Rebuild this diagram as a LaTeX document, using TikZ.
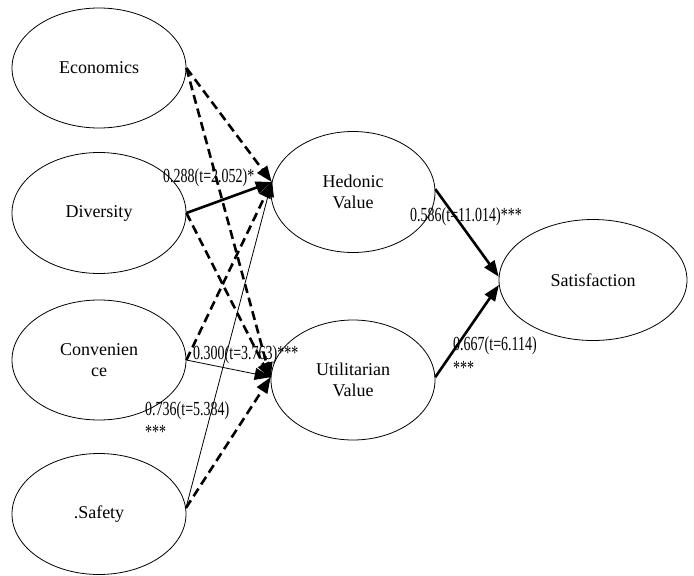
\documentclass[tikz,border=0pt]{standalone}
\usepackage{fontspec}
\setmainfont{Liberation Serif}
\newfontfamily\nodefont{Liberation Serif}
\newfontfamily\labfont[FakeStretch=0.7]{Liberation Serif}
\usetikzlibrary{shapes.geometric,arrows.meta}
\tikzset{
  constr/.style={ellipse,draw,line width=0.8pt,inner sep=0pt,align=center,
    font=\nodefont\fontsize{18}{21}\selectfont},
  path thick/.style={line width=2.6pt,-{Triangle[length=16pt,width=12pt]}},
  path dash/.style={line width=2.6pt,dash pattern=on 9pt off 5pt,-{Triangle[length=16pt,width=12pt]}},
  path thin/.style={line width=0.8pt,-{Triangle[length=16pt,width=12pt]}},
  coef/.style={inner sep=0pt,font=\labfont\fontsize{20}{22}\selectfont},
}
\begin{document}
\begin{tikzpicture}[x=1pt,y=-1pt]
\useasboundingbox (0,0) rectangle (694,576);
\node[constr,minimum width=174pt,minimum height=120pt] (eco) at (99,68) {Economics};
\node[constr,minimum width=174pt,minimum height=121pt] (div) at (99,213) {Diversity};
\node[constr,minimum width=174pt,minimum height=120pt] (con) at (99,360) {Convenien\\ce};
\node[constr,minimum width=174pt,minimum height=121pt] (saf) at (99,514) {.Safety};
\node[constr,minimum width=164pt,minimum height=121pt] (hed) at (353,192) {Hedonic\\Value};
\node[constr,minimum width=164pt,minimum height=120pt] (uti) at (353,380) {Utilitarian\\Value};
\node[constr,minimum width=188pt,minimum height=121pt] (sat) at (593,280) {Satisfaction};

\draw[path dash] (eco.east) -- (hed.173);
\draw[path dash] (eco.east) -- (uti.179);
\draw[path thick] (div.east) -- (hed.173);
\draw[path dash] (div.east) -- (uti.179);
\draw[path dash] (con.east) -- (hed.173);
\draw[path thin] (con.east) -- (uti.178);
\draw[path thin] (saf.4) -- (hed.172);
\draw[path dash] (saf.4) -- (uti.178);
\draw[path thick] (hed.2) -- (sat.178);
\draw[path thick] (uti.2) -- (sat.183);

\node[coef,anchor=west] (l1) at (163,178) {0.288(t=2.052)*};
\node[coef,anchor=west] (l2) at (193,355) {0.300(t=3.763)***};
\node[coef,anchor=west] (l3) at (145,411) {0.736(t=5.384)};
\node[coef,anchor=west] (l3s) at (145,432) {***};
\node[coef,anchor=west] (l4) at (410,217) {0.586(t=11.014)***};
\node[coef,anchor=west] (l5) at (453,346) {0.667(t=6.114)};
\node[coef,anchor=west] (l5s) at (453,368) {***};
\end{tikzpicture}
\end{document}
